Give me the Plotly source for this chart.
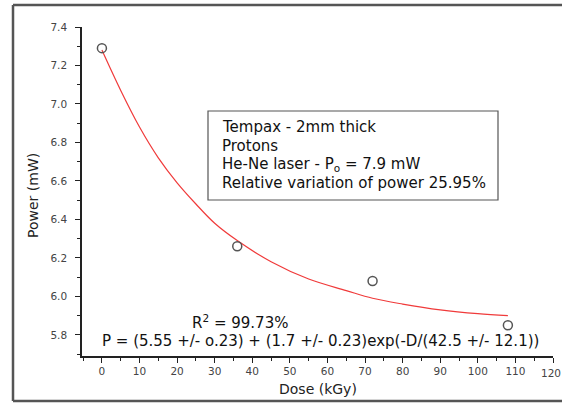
import plotly.graph_objects as go

# Measured data points
dose = [0, 36, 72, 108]
power = [7.29, 6.26, 6.08, 5.85]

# Fitted curve
fit_dose = [0, 5, 10, 15, 20, 25, 30, 36, 45, 55, 65, 72, 80, 90, 100, 108]
fit_power = [7.28, 7.07, 6.88, 6.72, 6.59, 6.48, 6.38, 6.29, 6.18, 6.09, 6.03,
             5.99, 5.96, 5.93, 5.91, 5.90]

x_ticks = [0, 10, 20, 30, 40, 50, 60, 70, 80, 90, 100, 110, 120]
x_ticklabels = ["0", "10", "20", "30", "40", "50", "60", "70", "80", "90",
                "100", "110", ""]
last_x_label = "120"

info_lines = ["Tempax - 2mm thick", "Protons",
              "He-Ne laser - P<sub>o</sub> = 7.9 mW",
              "Relative variation of power 25.95%"]
r2_text = "R<sup>2</sup> = 99.73%"
eq_text = "P = (5.55 +/- o.23) + (1.7 +/- 0.23)exp(-D/(42.5 +/- 12.1))"

W, H = 563, 404
L, R, T, B = 82, 553, 27, 356
FONT = "DejaVu Sans, Arial, sans-serif"


def px(x):
    return (x - L) / (R - L)


def py(y):
    return (B - y) / (B - T)


fig = go.Figure()
fig.add_trace(go.Scatter(x=fit_dose, y=fit_power, mode="lines",
                         line=dict(color="#f03a3a", width=1.2, shape="spline"),
                         hoverinfo="skip"))
fig.add_trace(go.Scatter(x=dose, y=power, mode="markers",
                         marker=dict(symbol="circle-open", size=9,
                                     line=dict(color="#555555", width=1.5),
                                     color="#555555")))

axis_common = dict(showgrid=False, zeroline=False, showline=True,
                   linecolor="#222222", linewidth=1.5, ticks="outside",
                   ticklen=5, tickwidth=1.2, tickcolor="#222222",
                   tickfont=dict(family=FONT, size=10.5, color="#444444"))

fig.update_xaxes(range=[-5.3, 120], tickmode="array", tickvals=x_ticks,
                 ticktext=x_ticklabels,
                 minor=dict(dtick=5, tick0=0, ticks="outside", ticklen=3,
                            tickcolor="#222222", tickwidth=1.2),
                 **axis_common)
fig.update_yaxes(range=[5.69, 7.4], tick0=5.8, dtick=0.2, tickformat=".1f",
                 minor=dict(dtick=0.1, tick0=5.8, ticks="outside", ticklen=3,
                            tickcolor="#222222", tickwidth=1.2),
                 ticklabelstandoff=6,
                 **axis_common)

frame = dict(color="#555555", width=2.5)
shapes = [
    # outer frame (top, left, bottom)
    dict(type="line", xref="paper", yref="paper",
         x0=px(13), x1=px(562), y0=py(5), y1=py(5), line=frame),
    dict(type="line", xref="paper", yref="paper",
         x0=px(13), x1=px(13), y0=py(5), y1=py(401), line=frame),
    dict(type="line", xref="paper", yref="paper",
         x0=px(13), x1=px(562), y0=py(401), y1=py(401), line=frame),
    # info box
    dict(type="rect", xref="paper", yref="paper",
         x0=px(208), x1=px(498), y0=py(200), y1=py(111),
         line=dict(color="#555555", width=1.2), fillcolor="white"),
]

annotations = []
for i, t in enumerate(info_lines):
    annotations.append(dict(xref="paper", yref="paper", x=px(220),
                            y=py(127 + i * 18.7), text=t, showarrow=False,
                            xanchor="left", yanchor="middle",
                            font=dict(family=FONT, size=15, color="#111111")))
annotations.append(dict(xref="paper", yref="paper", x=px(240), y=py(322),
                        text=r2_text, showarrow=False, xanchor="center",
                        yanchor="middle",
                        font=dict(family=FONT, size=15, color="#111111")))
annotations.append(dict(xref="paper", yref="paper", x=px(100), y=py(341),
                        text=eq_text, showarrow=False, xanchor="left",
                        yanchor="middle",
                        font=dict(family=FONT, size=15, color="#111111")))
annotations.append(dict(xref="paper", yref="paper", x=px(318), y=py(389),
                        text="Dose (kGy)", showarrow=False, xanchor="center",
                        yanchor="middle",
                        font=dict(family=FONT, size=14, color="#222222")))
annotations.append(dict(xref="paper", yref="paper", x=px(33), y=py(196),
                        text="Power (mW)", showarrow=False, textangle=-90,
                        xanchor="center", yanchor="middle",
                        font=dict(family=FONT, size=14, color="#222222")))
# last x tick label, kept inside the page
annotations.append(dict(xref="paper", yref="paper", x=px(562), y=py(373),
                        text=last_x_label, showarrow=False, xanchor="right",
                        yanchor="middle", borderpad=0,
                        font=dict(family=FONT, size=10.5, color="#444444")))

fig.update_layout(width=W, height=H,
                  margin=dict(l=L, r=W - R, t=T, b=H - B),
                  paper_bgcolor="white", plot_bgcolor="white",
                  showlegend=False, shapes=shapes, annotations=annotations)

fig.write_html("out.html")
